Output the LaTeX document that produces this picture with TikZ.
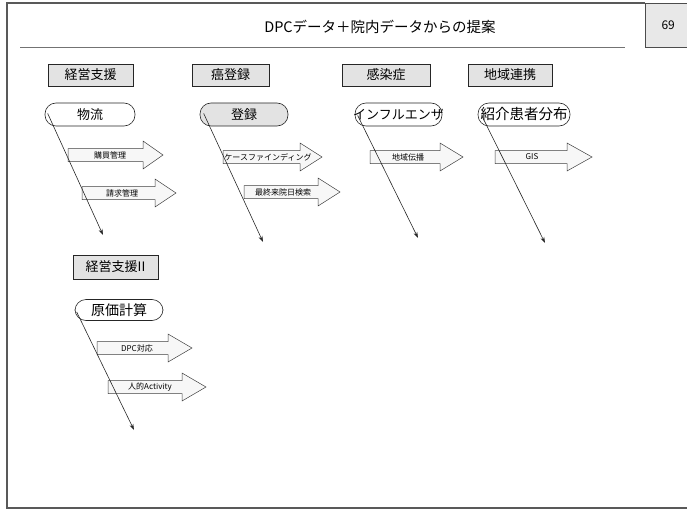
\documentclass[tikz,border=0pt]{standalone}
\usepackage{fontspec}
\setmainfont{Noto Sans CJK JP}
\usetikzlibrary{arrows.meta,calc}
\tikzset{
  catbox/.style={draw=black!85, line width=0.7pt, fill=gray!22,
    minimum height=22pt, inner sep=0pt, font=\fontsize{13}{15}\selectfont,
    append after command={\pgfextra{\let\catnode\tikzlastnode}
      [draw=black!80, line width=0.6pt]
      ($(\catnode.north west)+(2.2,2.2)$) rectangle ($(\catnode.south east)+(-2.2,-2.2)$)}},
  roundbox/.style={draw=black!85, line width=0.6pt, rounded corners=11pt, fill=white,
    minimum height=23pt, inner sep=0pt, font=\fontsize{13}{15}\selectfont},
  barrow/.style={draw=black!75, line width=0.5pt, fill=gray!6},
  btext/.style={inner sep=0pt, font=\fontsize{8}{9}\selectfont},
  conn/.style={draw=black!85, line width=0.6pt, -{Stealth[length=6pt,width=4pt]}},
  frameline/.style={draw=black!65, line width=1.3pt},
}
\newcommand\blockarrow[7]{% name, xL, xB, xT, yc, textx, text
  \draw[barrow] (#2,{#5-6.5}) -- (#3,{#5-6.5}) -- (#3,{#5-14}) -- (#4,#5) -- (#3,{#5+14}) -- (#3,{#5+6.5}) -- (#2,{#5+6.5}) -- cycle;
  \node[btext] (#1) at (#6,#5) {#7};}
\begin{document}
\begin{tikzpicture}[x=1pt,y=-1pt]
\useasboundingbox (0,0) rectangle (687,516);
% frame
\draw[frameline] (645,3) -- (7,3) -- (7,508) -- (690,508);
% page number box
\node[draw=black!70, fill=gray!18, minimum width=46pt, minimum height=44pt, inner sep=0pt,
  anchor=north west, font=\fontsize{12}{14}\selectfont] (pno) at (645,3) {69};
% title
\node[font=\fontsize{14.5}{17}\selectfont, inner sep=0pt] (title) at (380,27) {DPCデータ＋院内データからの提案};
\draw[draw=black!55, line width=0.8pt] (20,47) -- (625,47);

% category boxes
\node[catbox, minimum width=85pt] (keiei) at (90.5,75) {経営支援};
\node[catbox, minimum width=77pt] (gan) at (230.5,75) {癌登録};
\node[catbox, minimum width=88pt] (kansen) at (386,75) {感染症};
\node[catbox, minimum width=84pt] (chiiki) at (510,75) {地域連携};
\node[catbox, minimum width=85pt, minimum height=24pt] (keiei2) at (115.5,267) {経営支援II};

% rounded boxes
\node[roundbox, minimum width=90pt] (butsu) at (90,114.5) {物流};
\node[roundbox, minimum width=88pt, fill=gray!22] (touroku) at (244,114.5) {登録};
\node[roundbox, minimum width=87pt] (influ) at (398.5,114.5) {\makebox[0pt]{インフルエンザ}};
\node[roundbox, minimum width=92pt] (shoukai) at (524,114.5) {\makebox[0pt]{\fontsize{14.5}{16}\selectfont 紹介患者分布}};
\node[roundbox, minimum width=88pt, minimum height=21pt, font=\fontsize{14}{16}\selectfont] (genka) at (119,310) {原価計算};

% block arrows
\blockarrow{koubai}{68}{143}{163}{155}{110}{購買管理}
\blockarrow{seikyu}{82}{155}{176}{193}{122}{請求管理}
\blockarrow{case}{223}{300}{322}{157}{268}{ケースファインディング}
\blockarrow{saishu}{244}{318}{340}{192}{283}{最終来院日検索}
\blockarrow{denpa}{370}{440}{463}{157}{408}{地域伝播}
\blockarrow{gis}{495}{567}{592}{157}{532}{GIS}
\blockarrow{dpc}{97}{168}{192}{348}{137}{DPC対応}
\blockarrow{jinteki}{108}{182}{206}{387}{150}{人的Activity}

% connector ends
\coordinate (e1) at (103,235);
\coordinate (e2) at (263,242);
\coordinate (e3) at (418,238);
\coordinate (e4) at (545,243);
\coordinate (e5) at (134,430);

\draw[conn] ($(butsu.west)+(3,-1)$) -- (e1);
\draw[conn] ($(touroku.west)+(4,-1)$) -- (e2);
\draw[conn] ($(influ.west)+(3,1)$) -- (e3);
\draw[conn] ($(shoukai.west)+(4,1)$) -- (e4);
\draw[conn] ($(genka.west)+(2,2)$) -- (e5);
\end{tikzpicture}
\end{document}
